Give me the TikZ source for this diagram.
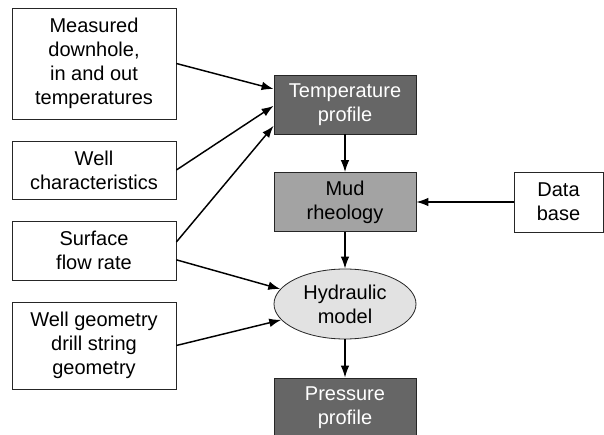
\documentclass[tikz,border=0pt]{standalone}
\usepackage{fontspec}
\setmainfont{Liberation Sans}
\usetikzlibrary{arrows.meta,shapes.geometric}
\definecolor{darkfill}{HTML}{666666}
\definecolor{midfill}{HTML}{A3A3A3}
\definecolor{lightfill}{HTML}{E2E2E2}
\begin{document}
\begin{tikzpicture}[x=0.75pt,y=-0.75pt,
  box/.style={draw=black!85,line width=0.6pt,align=center,inner sep=0pt,
    font=\fontsize{15}{18}\selectfont},
  wide/.style={box,minimum width=106.5pt,minimum height=44.25pt},
  arr/.style={-{Latex[length=9pt,width=6.5pt]},line width=1.1pt}]
\useasboundingbox (0,0) rectangle (604,435);

\node[box,minimum width=123pt,minimum height=83.25pt] (meas) at (94,63.5) {Measured\\downhole,\\in and out\\temperatures};
\node[box,minimum width=123pt,minimum height=43.5pt] (wellc) at (94,170) {Well\\characteristics};
\node[box,minimum width=123pt,minimum height=44.25pt] (surf) at (94,250.5) {Surface\\flow rate};
\node[box,minimum width=123pt,minimum height=65.25pt] (geom) at (94,345.5) {Well geometry\\drill string\\geometry};

\node[wide,fill=darkfill,text=white] (temp) at (345,104.5) {Temperature\\profile};
\node[wide,fill=midfill] (mud) at (345,202) {Mud\\rheology};
\node[box,minimum width=66.75pt,minimum height=45pt] (db) at (558.5,202) {Data\\base};
\node[box,ellipse,fill=lightfill,minimum width=106.5pt,minimum height=52.5pt] (hyd) at (345,304) {Hydraulic\\model};
\node[wide,fill=darkfill,text=white] (pres) at (345,407.5) {Pressure\\profile};

\draw[arr] (meas.east) -- ([yshift=11.6pt]temp.west);
\draw[arr] (wellc.east) -- ([yshift=-1pt]temp.west);
\draw[arr] ([yshift=6.4pt]surf.east) -- ([yshift=-16pt]temp.west);
\draw[arr] ([yshift=-7pt]surf.east) -- (hyd.167);
\draw[arr] (geom.east) -- (hyd.194);
\draw[arr] (db.west) -- (mud.east);
\draw[arr] (temp.south) -- (mud.north);
\draw[arr] (mud.south) -- (hyd.north);
\draw[arr] (hyd.south) -- (pres.north);
\end{tikzpicture}
\end{document}
